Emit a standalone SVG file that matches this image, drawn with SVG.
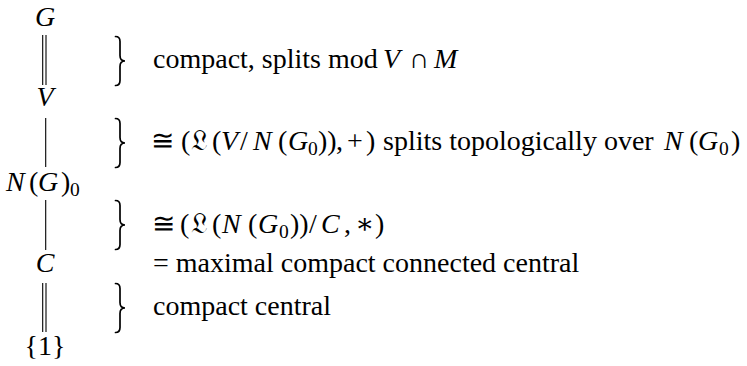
<svg xmlns="http://www.w3.org/2000/svg" width="747" height="366" viewBox="0 0 747 366">
<style>
text{font-family:"Liberation Serif","DejaVu Serif",serif;font-size:28px;fill:#000}
.i{font-style:italic}
.sub{font-size:19.5px}
.ln{stroke:#000;stroke-width:1.1;fill:none}
.br{stroke:#000;stroke-width:1.7;fill:none;stroke-linecap:round}
</style>
<rect width="747" height="366" fill="#fff"/>
<g id="connectors">
<line class="ln" x1="42.7" y1="35" x2="42.7" y2="85"/>
<line class="ln" x1="46" y1="35" x2="46" y2="85"/>
<line class="ln" x1="45.7" y1="118" x2="45.7" y2="167"/>
<line class="ln" x1="45.7" y1="200" x2="45.7" y2="250"/>
<line class="ln" x1="42.7" y1="283" x2="42.7" y2="332"/>
<line class="ln" x1="46" y1="283" x2="46" y2="332"/>
</g>
<g id="node-G"><text class="i" x="45" y="26" text-anchor="middle">G</text></g>
<g id="node-V"><text class="i" x="45" y="106" text-anchor="middle">V</text></g>
<g id="node-NG0"><text y="191"><tspan class="i" x="6">N</tspan><tspan x="29">(</tspan><tspan class="i" x="38">G</tspan><tspan x="61">)</tspan><tspan class="sub" x="70" y="196">0</tspan></text></g>
<g id="node-C"><text class="i" x="45" y="272" text-anchor="middle">C</text></g>
<g id="node-1"><text x="45" y="355" text-anchor="middle">{1}</text></g>
<g id="braces">
<path class="br" d="M115.5 36.5 Q120 36.5 120 41.5 L120 55.5 Q120 61 125 61 Q120 61 120 66.5 L120 80.5 Q120 85.5 115.5 85.5"/>
<path class="br" d="M115.5 118.5 Q120 118.5 120 123.5 L120 137.5 Q120 143 125 143 Q120 143 120 148.5 L120 162.5 Q120 167.5 115.5 167.5"/>
<path class="br" d="M115.5 200.5 Q120 200.5 120 205.5 L120 219.5 Q120 225 125 225 Q120 225 120 230.5 L120 244.5 Q120 249.5 115.5 249.5"/>
<path class="br" d="M115.5 283.5 Q120 283.5 120 288.5 L120 302.5 Q120 308 125 308 Q120 308 120 313.5 L120 327.5 Q120 332.5 115.5 332.5"/>
</g>
<g id="labels">
<text y="68"><tspan x="153">compact, splits mod</tspan><tspan class="i" x="383">V</tspan><tspan x="409">∩</tspan><tspan class="i" x="434">M</tspan></text>
<text y="150"><tspan x="151">≅</tspan><tspan x="181">(</tspan><tspan x="191">𝔏</tspan><tspan x="212">(</tspan><tspan class="i" x="221">V</tspan><tspan x="240">/</tspan><tspan class="i" x="253">N</tspan><tspan x="278">(</tspan><tspan class="i" x="288">G</tspan><tspan class="sub" x="308" y="155">0</tspan><tspan x="318" y="150">))</tspan><tspan x="336">,</tspan><tspan x="347">+</tspan><tspan x="366">)</tspan><tspan x="383">splits topologically over</tspan><tspan class="i" x="664">N</tspan><tspan x="689">(</tspan><tspan class="i" x="698">G</tspan><tspan class="sub" x="719" y="155">0</tspan><tspan x="731" y="150">)</tspan></text>
<text y="233"><tspan x="152">≅</tspan><tspan x="180">(</tspan><tspan x="191">𝔏</tspan><tspan x="212">(</tspan><tspan class="i" x="222">N</tspan><tspan x="248">(</tspan><tspan class="i" x="258">G</tspan><tspan class="sub" x="279" y="238">0</tspan><tspan x="290" y="233">))</tspan><tspan x="309">/</tspan><tspan class="i" x="321">C</tspan><tspan x="344">,</tspan><tspan x="355">∗</tspan><tspan x="375">)</tspan></text>
<text x="153" y="272">= maximal compact connected central</text>
<text x="153" y="315">compact central</text>
</g>
</svg>
